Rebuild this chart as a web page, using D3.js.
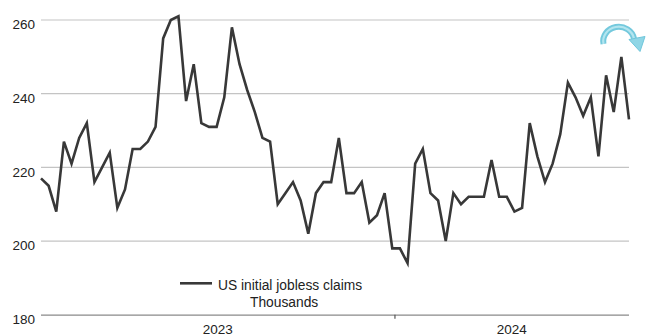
<!DOCTYPE html>
<html>
<head>
<meta charset="utf-8">
<script src="https://cdn.jsdelivr.net/npm/d3@7"></script>
<style>
  html, body { margin: 0; padding: 0; background: #fff; }
  svg { display: block; }
  text { font-family: "Liberation Sans", Arial, sans-serif; fill: #222; }
</style>
</head>
<body>
<svg id="chart" width="647" height="336"></svg>
<script>
// Weekly US initial jobless claims, thousands (week ending Saturday)
const startDate = "2023-02-11";
const claims = [
  217, 215, 208, 227, 221, 228, 232, 216, 220, 224,
  209, 214, 225, 225, 227, 231, 255, 260, 261, 238,
  248, 232, 231, 231, 239, 258, 248, 241, 235, 228,
  227, 210, 213, 216, 211, 202, 213, 216, 216, 228,
  213, 213, 216, 205, 207, 213, 198, 198, 194, 221,
  225, 213, 211, 200, 213, 210, 212, 212, 212, 222,
  212, 212, 208, 209, 232, 223, 216, 221, 229, 243,
  239, 234, 239, 223, 245, 235, 250, 233
];
const yTicks = [180, 200, 220, 240, 260];
const yearTicks = ["2024-01-01"];
const yearLabels = ["2023", "2024"];
const seriesName = "US initial jobless claims";
const unitLabel = "Thousands";

(function () {
const parse = d3.utcParse("%Y-%m-%d");
const t0 = parse(startDate);
const data = claims.map((v, i) => ({ date: d3.utcDay.offset(t0, 7 * i), value: v }));

const svg = d3.select("#chart");
const pLeft = 41, pRight = 629, pTop = 20, pBottom = 314.7;

const x = d3.scaleUtc()
  .domain(d3.extent(data, d => d.date))
  .range([pLeft, pRight]);
const y = d3.scaleLinear().domain([180, 260]).range([pBottom, pTop]);

// gridlines
svg.append("g").selectAll("line")
  .data(yTicks.filter(t => t !== 180))
  .join("line")
  .attr("x1", pLeft).attr("x2", pRight)
  .attr("y1", d => y(d)).attr("y2", d => y(d))
  .attr("stroke", "#c4c4c4").attr("stroke-width", 1.2);

// y labels (sit just below gridline)
svg.append("g").selectAll("text")
  .data(yTicks)
  .join("text")
  .attr("x", 35).attr("y", d => y(d) + 9.3)
  .attr("text-anchor", "end")
  .attr("font-size", "13.5px")
  .text(d => d);

// x axis
const tickDates = yearTicks.map(parse);
const xAxis = d3.axisBottom(x)
  .tickValues(tickDates)
  .tickSize(4)
  .tickFormat("");
const gx = svg.append("g")
  .attr("transform", `translate(0,${pBottom})`)
  .call(xAxis);
gx.select(".domain").attr("d", `M${pLeft},0.5H${pRight}`).attr("stroke", "#8a8a8a").attr("stroke-width", 1.3);
gx.selectAll(".tick line").attr("stroke", "#555").attr("stroke-width", 1.2);

// year labels centred in visible year spans
const bounds = [x.domain()[0], ...tickDates, x.domain()[1]];
svg.append("g").selectAll("text")
  .data(yearLabels)
  .join("text")
  .attr("x", (d, i) => (x(bounds[i]) + x(bounds[i + 1])) / 2)
  .attr("y", 334)
  .attr("text-anchor", "middle")
  .attr("font-size", "13.5px")
  .text(d => d);

// series line
const line = d3.line().x(d => x(d.date)).y(d => y(d.value));
svg.append("path")
  .datum(data)
  .attr("d", line)
  .attr("fill", "none")
  .attr("stroke", "#383838")
  .attr("stroke-width", 2.6)
  .attr("stroke-linejoin", "miter");

// legend
const lg = svg.append("g");
lg.append("line")
  .attr("x1", 180).attr("x2", 212)
  .attr("y1", 283.3).attr("y2", 283.3)
  .attr("stroke", "#383838").attr("stroke-width", 2.6);
lg.append("text")
  .attr("x", 218).attr("y", 290)
  .attr("font-size", "13.8px")
  .text(seriesName);
lg.append("text")
  .attr("x", 250).attr("y", 307.3)
  .attr("font-size", "13.8px")
  .text(unitLabel);

// decorative curved arrow (top right)
const ag = svg.append("g");
ag.append("path")
  .attr("d", "M603.5,44 A15.5,14.5 0 0 1 634,38.5")
  .attr("fill", "none")
  .attr("stroke", "#74c9dd")
  .attr("stroke-width", 6);
ag.append("path")
  .attr("d", "M603.5,44 A15.5,14.5 0 0 1 634,38.5")
  .attr("fill", "none")
  .attr("stroke", "#b3e5ef")
  .attr("stroke-width", 2.2);
ag.append("path")
  .attr("d", "M629,39.5 L645,36.5 L640,51.5 Z")
  .attr("fill", "#8fd6e6")
  .attr("stroke", "#6fc6db")
  .attr("stroke-width", 1);
})();
</script>
</body>
</html>
